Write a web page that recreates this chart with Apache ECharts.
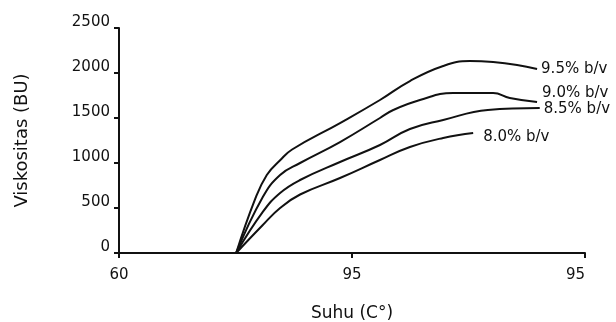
<!DOCTYPE html>
<html>
<head>
<meta charset="utf-8">
<script src="https://cdn.jsdelivr.net/npm/echarts@6/dist/echarts.min.js"></script>
<style>
  html, body { margin: 0; padding: 0; background: #fff; }
  #chart { width: 616px; height: 322px; }
</style>
</head>
<body>
<div id="chart"></div>
<script>
// Viskositas vs suhu, 4 konsentrasi
var seriesNames = ['9.5% b/v', '9.0% b/v', '8.5% b/v', '8.0% b/v'];

var suhu95 = [77.6, 80.4, 82.2, 84.2, 86.0, 93.2, 99.2, 103.7, 108.7, 112.7, 116.2, 119.8, 122.8];
var visk95 = [0, 589, 867, 1030, 1150, 1444, 1700, 1911, 2078, 2133, 2122, 2089, 2044];

var suhu90 = [77.6, 81.6, 84.2, 87.2, 93.2, 99.2, 101.2, 105.2, 110.2, 116.2, 118.7, 122.8];
var visk90 = [0, 622, 867, 1000, 1233, 1500, 1589, 1700, 1778, 1778, 1722, 1678];

var suhu85 = [77.6, 81.6, 84.2, 87.2, 93.2, 99.2, 103.7, 108.7, 115.4, 123.2];
var visk85 = [0, 456, 667, 811, 1011, 1200, 1378, 1478, 1589, 1611];

var suhu80 = [77.6, 81.6, 84.2, 87.2, 93.2, 99.2, 103.7, 108.7, 113.2];
var visk80 = [0, 311, 500, 650, 833, 1033, 1178, 1278, 1333];

var xTicks = [60, 95, 130];
var xTickLabels = ['60', '95', '95'];
var yTicks = [0, 500, 1000, 1500, 2000, 2500];

function pairs(xs, ys) {
    var out = [];
    for (var i = 0; i < xs.length; i++) out.push([xs[i], ys[i]]);
    return out;
}

var fontFam = 'DejaVu Sans, sans-serif';

function makeSeries(name, xs, ys, labelOffset) {
    return {
        name: name,
        type: 'line',
        data: pairs(xs, ys),
        smooth: 0.45,
        symbol: 'none',
        lineStyle: { color: '#111', width: 2 },
        endLabel: {
            show: true,
            formatter: '{a}',
            offset: labelOffset,
            color: '#111',
            fontSize: 15,
            fontFamily: fontFam
        }
    };
}

var chart = echarts.init(document.getElementById('chart'));
var option = {
    backgroundColor: '#fff',
    animation: false,
    grid: { left: 119, right: 31, top: 28, bottom: 69, outerBoundsMode: 'none', containLabel: false },
    xAxis: {
        type: 'value',
        min: xTicks[0],
        max: xTicks[xTicks.length - 1],
        interval: xTicks[1] - xTicks[0],
        name: 'Suhu (C°)',
        nameLocation: 'middle',
        nameGap: 52,
        nameTextStyle: { color: '#111', fontSize: 17, fontFamily: fontFam },
        axisLine: { lineStyle: { color: '#111', width: 2 } },
        axisTick: { show: true, length: 5, lineStyle: { color: '#111', width: 2 } },
        axisLabel: {
            color: '#111', fontSize: 15, fontFamily: fontFam, margin: 15,
            alignMaxLabel: 'right',
            formatter: function (v) {
                var i = xTicks.indexOf(v);
                return i >= 0 ? xTickLabels[i] : '';
            }
        },
        splitLine: { show: false }
    },
    yAxis: {
        type: 'value',
        min: yTicks[0],
        max: yTicks[yTicks.length - 1],
        interval: yTicks[1] - yTicks[0],
        name: 'Viskositas (BU)',
        nameLocation: 'middle',
        nameGap: 88,
        nameTextStyle: { color: '#111', fontSize: 18, fontFamily: fontFam, padding: [0, 0, 0, 0] },
        axisLine: { show: true, lineStyle: { color: '#111', width: 2 } },
        axisTick: { show: true, length: 5, lineStyle: { color: '#111', width: 2 } },
        axisLabel: {
            color: '#111', fontSize: 15, fontFamily: fontFam, margin: 9,
            verticalAlign: 'bottom', lineHeight: 12,
            formatter: function (v) { return String(v); }
        },
        splitLine: { show: false }
    },
    series: [
        makeSeries(seriesNames[0], suhu95, visk95, [-4, 0]),
        makeSeries(seriesNames[1], suhu90, visk90, [-3, -9]),
        makeSeries(seriesNames[2], suhu85, visk85, [-4, 1]),
        makeSeries(seriesNames[3], suhu80, visk80, [2, 4])
    ]
};
chart.setOption(option);
</script>
</body>
</html>
